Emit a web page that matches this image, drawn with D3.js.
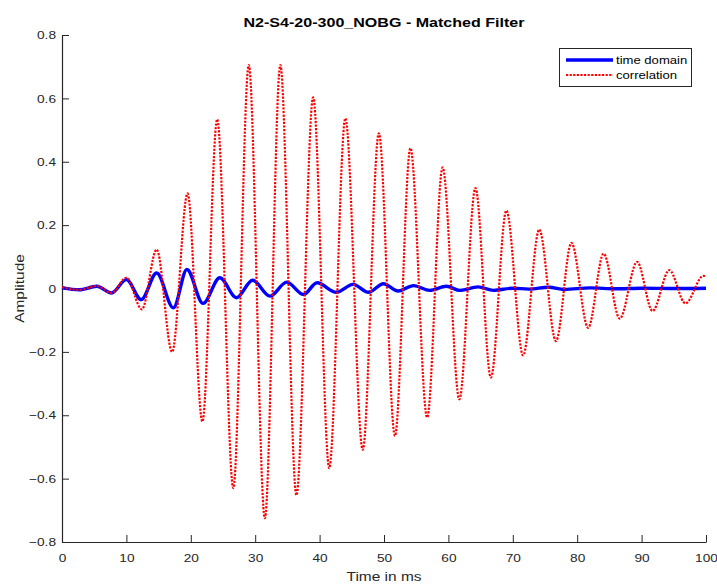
<!DOCTYPE html>
<html>
<head>
<meta charset="utf-8">
<script src="https://cdn.jsdelivr.net/npm/d3@7"></script>
<style>
  body { margin: 0; background: #fff; }
  svg text { font-family: "Liberation Sans", Arial, Helvetica, sans-serif; fill: #262626; }
</style>
</head>
<body>
<svg id="chart" width="717" height="584"></svg>
<script>
/* DATA: EXTREMA OF EACH TRACE (TIME IN MS, AMPLITUDE) */
var timeT = [0, 2.7, 5.4, 7.7, 10.0, 12.3, 14.7, 17.3, 19.4, 21.9, 24.5, 27.1, 29.6, 32.3, 34.9, 37.5,
             39.6, 42.6, 45.2, 47.6, 49.9, 52.2, 54.6, 57.1, 59.7, 61.8, 64.6, 67.0, 70.0, 72.5, 75.6,
             78.0, 82.0, 86.0, 90.0, 95.0, 100];
var timeV = [0.003, -0.004, 0.007, -0.014, 0.028, -0.035, 0.049, -0.061, 0.060, -0.047, 0.034, -0.029,
             0.026, -0.024, 0.020, -0.019, 0.018, -0.012, 0.013, -0.012, 0.015, -0.008, 0.009, -0.006,
             0.007, -0.006, 0.005, -0.006, 0.001, -0.002, 0.004, -0.003, 0.002, -0.001, 0.001, 0.0, 0.001];

var corrT = [0, 2.7, 5.4, 7.7, 10.0, 12.4, 14.7, 17.1, 19.5, 21.8, 24.1, 26.6, 29.0, 31.5, 33.9, 36.4,
             39.0, 41.5, 44.0, 46.7, 49.2, 51.7, 54.1, 56.7, 59.1, 61.7, 64.2, 66.6, 69.0, 71.6, 74.1,
             76.7, 79.1, 81.7, 84.1, 86.6, 89.3, 91.7, 94.3, 96.8, 99.6, 100];
var corrV = [0.004, -0.004, 0.008, -0.014, 0.034, -0.066, 0.123, -0.200, 0.300, -0.420, 0.534, -0.630,
             0.705, -0.725, 0.705, -0.652, 0.603, -0.567, 0.537, -0.509, 0.490, -0.465, 0.443, -0.407,
             0.382, -0.350, 0.317, -0.281, 0.246, -0.211, 0.186, -0.166, 0.144, -0.124, 0.110, -0.095,
             0.084, -0.071, 0.058, -0.047, 0.040, 0.039];

var xTicks = [0, 10, 20, 30, 40, 50, 60, 70, 80, 90, 100];
var yTicks = [-0.8, -0.6, -0.4, -0.2, 0, 0.2, 0.4, 0.6, 0.8];
var seriesNames = ["time domain", "correlation"];

/* SVG AND SCALES */
var svg = d3.select("#chart");
var plotLeft = 62, plotRight = 706, plotTop = 35, plotBottom = 542;
var axisColor = "#262626";
var wide = 1.19; // the reference text is drawn wider than Liberation Sans

var x = d3.scaleLinear().domain([0, 100]).range([plotLeft, plotRight]);
var y = d3.scaleLinear().domain([-0.8, 0.8]).range([plotBottom, plotTop]);

/* AXES (TICKS POINT INWARD LIKE MATLAB) */
var xAxis = svg.append("g")
    .attr("transform", "translate(0," + plotBottom + ")")
    .call(d3.axisBottom(x).tickValues(xTicks).tickSize(-7).tickPadding(12).tickSizeOuter(0)
          .tickFormat(d3.format("d")));
var yAxis = svg.append("g")
    .attr("transform", "translate(" + plotLeft + ",0)")
    .call(d3.axisLeft(y).tickValues(yTicks).tickSize(-7).tickPadding(6).tickSizeOuter(0)
          .tickFormat(function(d){ return d === 0 ? "0" : d3.format(".1f")(d); }));

[xAxis, yAxis].forEach(function(a){
  a.select(".domain").attr("stroke", axisColor).attr("stroke-width", 1.2);
  a.selectAll(".tick line").attr("stroke", axisColor).attr("stroke-width", 1);
  a.selectAll(".tick text").attr("font-size", "11.5px").attr("fill", axisColor);
});
xAxis.selectAll(".tick text").attr("transform", "scale(" + wide + ",1)");
yAxis.selectAll(".tick text").attr("x", 0).attr("transform", "translate(-6,0) scale(" + wide + ",1)");

/* LINES */
var line = d3.line().curve(d3.curveMonotoneX)
    .x(function(d){ return x(d[0]); })
    .y(function(d){ return y(d[1]); });

var timeData = timeT.map(function(t, i){ return [t, timeV[i]]; });
var corrData = corrT.map(function(t, i){ return [t, corrV[i]]; });

svg.append("path").datum(timeData)
    .attr("d", line)
    .attr("fill", "none")
    .attr("stroke", "#0000ff")
    .attr("stroke-width", 3.4)
    .attr("stroke-linejoin", "round");

svg.append("path").datum(corrData)
    .attr("d", line)
    .attr("fill", "none")
    .attr("stroke", "#ff0000")
    .attr("stroke-width", 2.2)
    .attr("stroke-dasharray", "2.2,1.4");

/* TITLE AND AXIS LABELS */
svg.append("text")
    .attr("transform", "translate(" + (plotLeft + plotRight) / 2 + ",27) scale(" + wide + ",1)")
    .attr("text-anchor", "middle")
    .attr("font-size", "13.5px").attr("font-weight", "bold")
    .style("fill", "#000")
    .text("N2-S4-20-300_NOBG - Matched Filter");

svg.append("text")
    .attr("transform", "translate(" + (plotLeft + plotRight) / 2 + ",581) scale(" + wide + ",1)")
    .attr("text-anchor", "middle")
    .attr("font-size", "13px")
    .text("Time in ms");

svg.append("text")
    .attr("transform", "translate(24," + y(0) + ") rotate(-90) scale(" + wide + ",1)")
    .attr("text-anchor", "middle")
    .attr("font-size", "13px")
    .text("Amplitude");

/* LEGEND */
var legend = svg.append("g");
legend.append("rect")
    .attr("x", 559.5).attr("y", 48.5).attr("width", 132).attr("height", 38)
    .attr("fill", "#fff").attr("stroke", axisColor).attr("stroke-width", 1);

var legendStyles = [
  { color: "#0000ff", width: 3.4, dash: null },
  { color: "#ff0000", width: 2.2, dash: "2.2,1.4" }
];
seriesNames.forEach(function(name, i){
  var ly = 60 + i * 15;
  legend.append("line")
      .attr("x1", 566).attr("x2", 613).attr("y1", ly).attr("y2", ly)
      .attr("stroke", legendStyles[i].color)
      .attr("stroke-width", legendStyles[i].width)
      .attr("stroke-dasharray", legendStyles[i].dash);
  legend.append("text")
      .attr("transform", "translate(616," + (ly + 4) + ") scale(" + wide + ",1)")
      .attr("font-size", "11px")
      .style("fill", "#000")
      .text(name);
});
</script>
</body>
</html>
